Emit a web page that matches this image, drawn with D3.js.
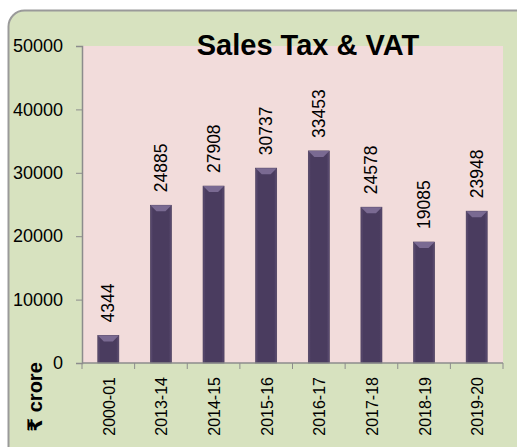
<!DOCTYPE html>
<html>
<head>
<meta charset="utf-8">
<script src="https://cdn.jsdelivr.net/npm/d3@7"></script>
<style>
  html, body { margin: 0; padding: 0; background: #ffffff; }
  svg text { font-family: "Liberation Sans", "DejaVu Sans", Arial, sans-serif; fill: #000; }
</style>
</head>
<body>
<svg id="chart" width="517" height="447"></svg>
<script>
// data
var years = ["2000-01", "2013-14", "2014-15", "2015-16", "2016-17", "2017-18", "2018-19", "2019-20"];
var salesTax = [4344, 24885, 27908, 30737, 33453, 24578, 19085, 23948];
var yTicks = [0, 10000, 20000, 30000, 40000, 50000];
var chartTitle = "Sales Tax & VAT";
var unitLabel = "₹ crore";

var svg = d3.select("#chart");

// outer frame, cut off at the right and bottom like the screenshot
svg.append("rect")
    .attr("x", 8.5).attr("y", 10.5)
    .attr("width", 540).attr("height", 460)
    .attr("rx", 16).attr("ry", 16)
    .attr("fill", "#d7e2bf")
    .attr("stroke", "#9a9a9a")
    .attr("stroke-width", 2);

var plot = {left: 82, right: 503, top: 46, bottom: 363};

var x = d3.scaleBand().domain(years).range([plot.left, plot.right]).paddingInner(0.6).paddingOuter(0.3);
var xb = d3.scaleBand().domain(years).range([plot.left, plot.right]);
var y = d3.scaleLinear().domain([0, 50000]).range([plot.bottom, plot.top]);

svg.append("rect")
    .attr("x", plot.left).attr("y", plot.top)
    .attr("width", plot.right - plot.left).attr("height", plot.bottom - plot.top)
    .attr("fill", "#f2dcdb");

// bar shading
var defs = svg.append("defs");
var grad = defs.append("linearGradient").attr("id", "barGrad").attr("x1", "0").attr("x2", "1").attr("y1", "0").attr("y2", "0");
grad.append("stop").attr("offset", "0").attr("stop-color", "#5e4f74");
grad.append("stop").attr("offset", "0.12").attr("stop-color", "#4a3c5f");
grad.append("stop").attr("offset", "0.88").attr("stop-color", "#4a3c5f");
grad.append("stop").attr("offset", "1").attr("stop-color", "#5e4f74");

var bars = svg.append("g").selectAll("g.bar")
    .data(years)
    .enter()
    .append("g")
    .attr("class", "bar");

bars.append("rect")
    .attr("x", function(d){ return x(d); })
    .attr("y", function(d, i){ return y(salesTax[i]); })
    .attr("width", x.bandwidth())
    .attr("height", function(d, i){ return y(0) - y(salesTax[i]); })
    .attr("fill", "url(#barGrad)")
    .attr("stroke", "#3d3150")
    .attr("stroke-width", 0.6);

// bevel on top of each bar
bars.append("path")
    .attr("d", function(d, i){
        var x0 = x(d), x1 = x(d) + x.bandwidth(), t = y(salesTax[i]), b = 6;
        return "M" + x0 + "," + t + "L" + x1 + "," + t + "L" + (x1 - b) + "," + (t + b) + "L" + (x0 + b) + "," + (t + b) + "Z";
    })
    .attr("fill", "#7a6a92");

// value labels
bars.append("text")
    .attr("transform", function(d, i){
        return "translate(" + (x(d) + x.bandwidth() / 2) + "," + (y(salesTax[i]) - 13) + ") rotate(-90)";
    })
    .attr("dominant-baseline", "central")
    .style("font-size", "17.5px")
    .text(function(d, i){ return salesTax[i]; });

// y axis
var yAxis = svg.append("g")
    .attr("transform", "translate(" + plot.left + ",0)")
    .call(d3.axisLeft(y).tickValues(yTicks).tickSize(6).tickPadding(13).tickFormat(d3.format("d")));
yAxis.select(".domain").attr("stroke", "#8c8c8c").attr("stroke-width", 1.5);
yAxis.selectAll(".tick line").attr("stroke", "#8c8c8c");
yAxis.selectAll(".tick text").style("font-size", "18px").attr("fill", "#000");

// x axis, ticks on band edges
var xAxis = svg.append("g")
    .attr("transform", "translate(0," + plot.bottom + ")");
xAxis.append("line")
    .attr("x1", plot.left).attr("x2", plot.right)
    .attr("stroke", "#8c8c8c").attr("stroke-width", 1.5);
xAxis.selectAll("line.tk")
    .data(years.concat(["end"]))
    .enter()
    .append("line")
    .attr("class", "tk")
    .attr("x1", function(d, i){ return i < years.length ? xb(d) : plot.right; })
    .attr("x2", function(d, i){ return i < years.length ? xb(d) : plot.right; })
    .attr("y1", 0).attr("y2", 6)
    .attr("stroke", "#8c8c8c");
xAxis.selectAll("text")
    .data(years)
    .enter()
    .append("text")
    .attr("transform", function(d){
        return "translate(" + (x(d) + x.bandwidth() / 2 + 1) + ",14) rotate(-90)";
    })
    .attr("text-anchor", "end")
    .attr("dominant-baseline", "central")
    .style("font-size", "16px")
    .text(function(d){ return d; });

// title and unit
svg.append("text")
    .attr("x", 308).attr("y", 55)
    .attr("text-anchor", "middle")
    .style("font-size", "29px")
    .style("font-weight", "bold")
    .text(chartTitle);

svg.append("text")
    .attr("transform", "translate(35,397) rotate(-90)")
    .attr("text-anchor", "middle")
    .attr("dominant-baseline", "central")
    .style("font-size", "20px")
    .style("font-weight", "bold")
    .text(unitLabel);
</script>
</body>
</html>
